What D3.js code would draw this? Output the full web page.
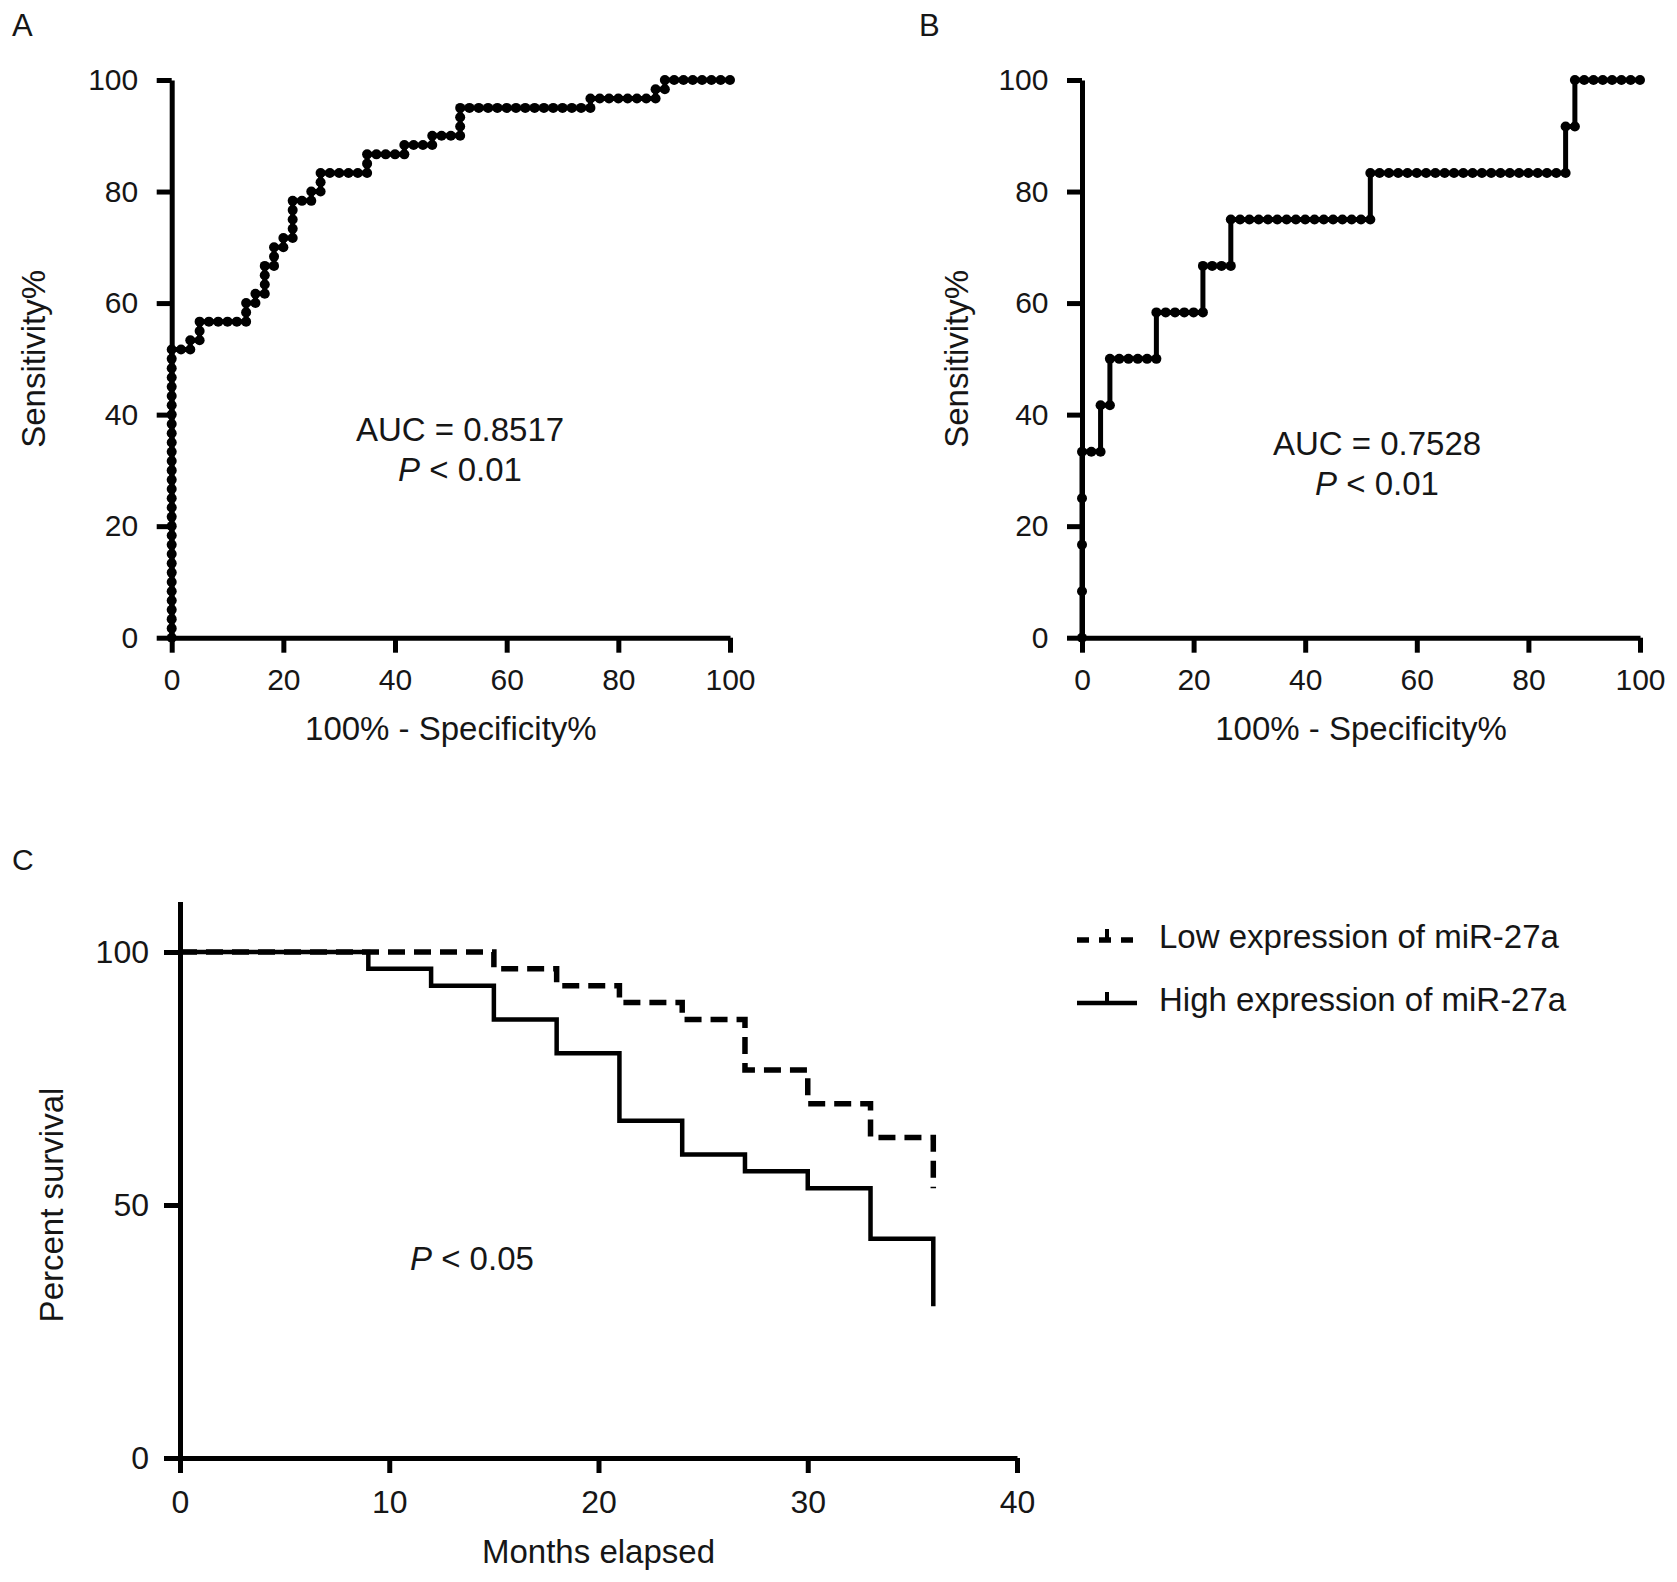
<!DOCTYPE html>
<html>
<head>
<meta charset="utf-8">
<script src="https://cdn.jsdelivr.net/npm/d3@7"></script>
<style>
body { margin: 0; background: #fff; }
svg text { font-family: Arial, "Liberation Sans", sans-serif; fill: #161616; }
</style>
</head>
<body>
<svg></svg>
<script>
// ---- data ----
// panel A: ROC points, 100% - specificity% and sensitivity%
var rocA_fpr = [0,0,0,0,0,0,0,0,0,0,0,0,0,0,0,0,0,0,0,0,0,0,0,0,0,0,0,0,0,0,0,0,
  1.67,3.33,3.33,5,5,5,6.67,8.33,10,11.67,13.33,13.33,13.33,15,15,16.67,16.67,16.67,16.67,
  18.33,18.33,18.33,20,20,21.67,21.67,21.67,21.67,21.67,23.33,25,25,26.67,26.67,26.67,
  28.33,30,31.67,33.33,35,35,35,36.67,38.33,40,41.67,41.67,43.33,45,46.67,46.67,48.33,50,
  51.67,51.67,51.67,51.67,
  53.33,55,56.67,58.33,60,61.67,63.33,65,66.67,68.33,70,71.67,73.33,75,
  75,76.67,78.33,80,81.67,83.33,85,86.67,
  86.67,88.33,88.33,90,91.67,93.33,95,96.67,98.33,100];
var rocA_sens = [0,1.67,3.33,5,6.67,8.33,10,11.67,13.33,15,16.67,18.33,20,21.67,23.33,25,
  26.67,28.33,30,31.67,33.33,35,36.67,38.33,40,41.67,43.33,45,46.67,48.33,50,51.67,
  51.67,51.67,53.33,53.33,55,56.67,56.67,56.67,56.67,56.67,56.67,58.33,60,60,61.67,61.67,63.33,65,66.67,
  66.67,68.33,70,70,71.67,71.67,73.33,75,76.67,78.33,78.33,78.33,80,80,81.67,83.33,
  83.33,83.33,83.33,83.33,83.33,85,86.67,86.67,86.67,86.67,86.67,88.33,88.33,88.33,88.33,90,90,90,
  90,91.67,93.33,95,
  95,95,95,95,95,95,95,95,95,95,95,95,95,95,
  96.67,96.67,96.67,96.67,96.67,96.67,96.67,96.67,
  98.33,98.33,100,100,100,100,100,100,100,100];

// panel B: ROC points
var rocB_fpr = [0,0,0,0,0,
  1.67,3.33,3.33,5,5,
  6.67,8.33,10,11.67,13.33,13.33,
  15,16.67,18.33,20,21.67,21.67,
  23.33,25,26.67,26.67,
  28.33,30,31.67,33.33,35,36.67,38.33,40,41.67,43.33,45,46.67,48.33,50,51.67,51.67,
  53.33,55,56.67,58.33,60,61.67,63.33,65,66.67,68.33,70,71.67,73.33,75,76.67,78.33,80,81.67,83.33,85,86.67,
  86.67,88.33,88.33,90,91.67,93.33,95,96.67,98.33,100];
var rocB_sens = [0,8.33,16.67,25,33.33,
  33.33,33.33,41.67,41.67,50,
  50,50,50,50,50,58.33,
  58.33,58.33,58.33,58.33,58.33,66.67,
  66.67,66.67,66.67,75,
  75,75,75,75,75,75,75,75,75,75,75,75,75,75,75,83.33,
  83.33,83.33,83.33,83.33,83.33,83.33,83.33,83.33,83.33,83.33,83.33,83.33,83.33,83.33,83.33,83.33,83.33,83.33,83.33,83.33,83.33,
  91.67,91.67,100,100,100,100,100,100,100,100];

var rocTicks = [0, 20, 40, 60, 80, 100];
var aucLabels = ["AUC = 0.8517", "AUC = 0.7528"];

// panel C: Kaplan-Meier steps
var seriesNames = ["Low expression of miR-27a", "High expression of miR-27a"];
var monthsLow = [0, 15, 18, 21, 24, 27, 30, 33, 36];
var survLow = [100, 96.67, 93.33, 90, 86.67, 76.67, 70, 63.33, 53.33];
var monthsHigh = [0, 9, 12, 15, 18, 21, 24, 27, 30, 33, 36];
var survHigh = [100, 96.67, 93.33, 86.67, 80, 66.67, 60, 56.67, 53.33, 43.33, 30];
var monthTicks = [0, 10, 20, 30, 40];
var survTicks = [0, 50, 100];

// ---- drawing ----
var svg = d3.select("svg")
    .attr("width", 1677)
    .attr("height", 1582);

svg.append("rect")
    .attr("width", "100%")
    .attr("height", "100%")
    .attr("fill", "white");

function styleAxis(g, fs) {
  g.attr("font-family", "Arial, 'Liberation Sans', sans-serif")
   .attr("font-size", fs);
  g.select(".domain").attr("stroke", "#000").attr("stroke-width", 5);
  g.selectAll(".tick line").attr("stroke", "#000").attr("stroke-width", 5);
  g.selectAll(".tick text").attr("fill", "#161616");
}

function label(x, y, txt, fs, anchor) {
  return svg.append("text")
    .attr("x", x).attr("y", y)
    .attr("font-size", fs)
    .attr("text-anchor", anchor || "start")
    .text(txt);
}

function pLabel(x, y, rest, fs, anchor) {
  var t = svg.append("text")
    .attr("x", x).attr("y", y)
    .attr("font-size", fs)
    .attr("text-anchor", anchor || "middle");
  t.append("tspan").attr("font-style", "italic").text("P");
  t.append("tspan").text(rest);
}

function rocPanel(p) {
  var x = d3.scaleLinear().domain([0, 100]).range([p.x0, p.x1]);
  var y = d3.scaleLinear().domain([0, 100]).range([p.y0, p.y1]);

  svg.append("g")
    .attr("transform", "translate(0," + p.y0 + ")")
    .call(d3.axisBottom(x).tickValues(rocTicks).tickSize(15).tickSizeOuter(0).tickPadding(16))
    .call(styleAxis, 30);

  svg.append("g")
    .attr("transform", "translate(" + p.x0 + ",0)")
    .call(d3.axisLeft(y).tickValues(rocTicks).tickSize(15).tickSizeOuter(0).tickPadding(18.5))
    .call(styleAxis, 30);

  var pts = p.fpr.map(function(d, i) { return [d, p.sens[i]]; });

  var line = d3.line()
    .x(function(d) { return x(d[0]); })
    .y(function(d) { return y(d[1]); });

  svg.append("path")
    .datum(pts)
    .attr("d", line)
    .attr("fill", "none")
    .attr("stroke", "#000")
    .attr("stroke-width", 5);

  svg.append("g").selectAll("circle")
    .data(pts)
    .enter().append("circle")
    .attr("cx", function(d) { return x(d[0]); })
    .attr("cy", function(d) { return y(d[1]); })
    .attr("r", 5)
    .attr("fill", "#000");

  label(p.letterX, 36, p.letter, 31);
  svg.append("text")
    .attr("transform", "translate(" + p.ytitleX + "," + (p.y0 + p.y1) / 2 + ") rotate(-90)")
    .attr("font-size", 33)
    .attr("text-anchor", "middle")
    .text("Sensitivity%");
  label((p.x0 + p.x1) / 2, 740, "100% - Specificity%", 33, "middle");
  label(p.aucX, p.aucY, p.auc, 33, "middle");
  pLabel(p.aucX, p.aucY + 40, " < 0.01", 33, "middle");
}

rocPanel({ x0: 171.7, x1: 730, y0: 637.7, y1: 80, fpr: rocA_fpr, sens: rocA_sens,
  letter: "A", letterX: 12, ytitleX: 45, auc: aucLabels[0], aucX: 460, aucY: 441 });
rocPanel({ x0: 1082, x1: 1640, y0: 637.7, y1: 80, fpr: rocB_fpr, sens: rocB_sens,
  letter: "B", letterX: 919, ytitleX: 968, auc: aucLabels[1], aucX: 1377, aucY: 455 });

// panel C
var xC = d3.scaleLinear().domain([0, 40]).range([180, 1017]);
var yC = d3.scaleLinear().domain([0, 110]).range([1458, 901.4]);

svg.append("g")
  .attr("transform", "translate(0,1458)")
  .call(d3.axisBottom(xC).tickValues(monthTicks).tickSize(15).tickSizeOuter(0).tickPadding(17))
  .call(styleAxis, 32);

svg.append("g")
  .attr("transform", "translate(180,0)")
  .call(d3.axisLeft(yC).tickValues(survTicks).tickSize(16).tickSizeOuter(0).tickPadding(15))
  .call(styleAxis, 32);

var km = d3.line()
  .x(function(d) { return xC(d[0]); })
  .y(function(d) { return yC(d[1]); })
  .curve(d3.curveStepAfter);

svg.append("path")
  .datum(monthsLow.map(function(m, i) { return [m, survLow[i]]; }))
  .attr("d", km)
  .attr("fill", "none")
  .attr("stroke", "#000")
  .attr("stroke-width", 5.5)
  .attr("stroke-dasharray", "17,9");

svg.append("path")
  .datum(monthsHigh.map(function(m, i) { return [m, survHigh[i]]; }))
  .attr("d", km)
  .attr("fill", "none")
  .attr("stroke", "#000")
  .attr("stroke-width", 4.5);

label(12, 870, "C", 30);
svg.append("text")
  .attr("transform", "translate(63," + yC(50) + ") rotate(-90)")
  .attr("font-size", 33)
  .attr("text-anchor", "middle")
  .text("Percent survival");
label((180 + 1017) / 2, 1563, "Months elapsed", 33, "middle");
pLabel(410, 1270, " < 0.05", 33, "start");

// legend
var legend = svg.append("g");
seriesNames.forEach(function(name, i) {
  var ly = i === 0 ? 940 : 1003;
  legend.append("line")
    .attr("x1", 1077).attr("x2", 1137)
    .attr("y1", ly).attr("y2", ly)
    .attr("stroke", "#000")
    .attr("stroke-width", i === 0 ? 5.5 : 4.5)
    .attr("stroke-dasharray", i === 0 ? "12,10" : null);
  legend.append("line")
    .attr("x1", 1107).attr("x2", 1107)
    .attr("y1", ly).attr("y2", ly - 11)
    .attr("stroke", "#000")
    .attr("stroke-width", 4);
  legend.append("text")
    .attr("x", 1159).attr("y", ly + 8)
    .attr("font-size", 33)
    .text(name);
});
</script>
</body>
</html>
